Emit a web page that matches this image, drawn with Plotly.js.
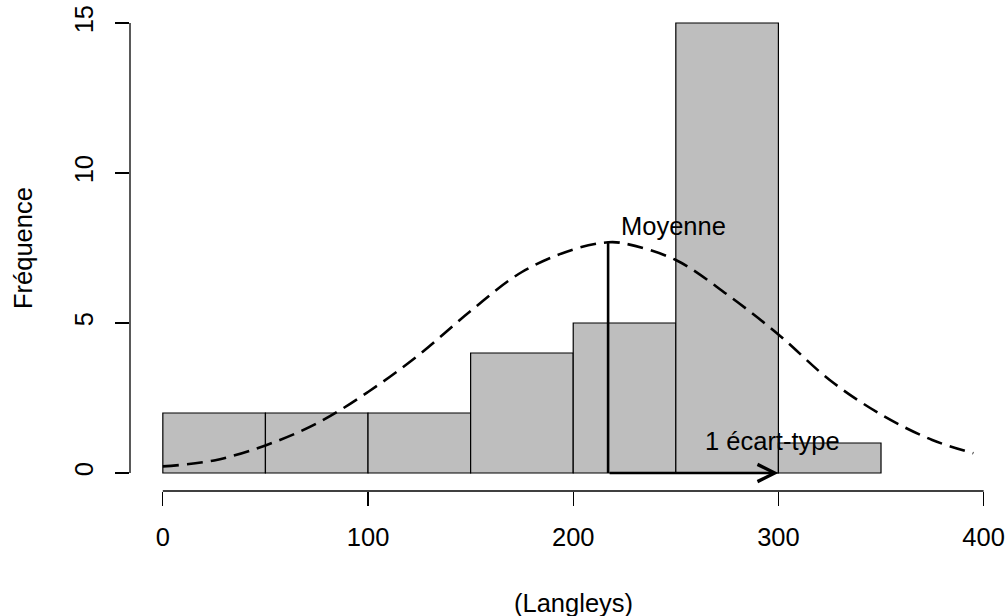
<!DOCTYPE html>
<html>
<head>
<meta charset="utf-8">
<script src="https://cdn.plot.ly/plotly-3.0.1.min.js"></script>
<style>html,body{margin:0;padding:0;background:#fff;}#chart{width:1007px;height:616px;}</style>
</head>
<body>
<div id="chart"></div>
<script>
// Histogram bins (Langleys) and frequencies
var binCenters = [25, 75, 125, 175, 225, 275, 325];
var binWidth = 50;
var counts = [2, 2, 2, 4, 5, 15, 1];

// Dashed normal curve
var curveX = [0, 25, 50, 75, 100, 125, 150, 175, 200, 217, 225, 250, 275, 300, 325, 350, 375, 395];
var curveY = [0.22, 0.42, 0.92, 1.65, 2.7, 3.95, 5.4, 6.7, 7.45, 7.69, 7.65, 7.1, 5.95, 4.62, 3.1, 1.95, 1.1, 0.66];

// Mean and one standard deviation
var meanValue = 217;
var meanHeight = 7.69;
var sdEnd = 300;

var xTicks = [0, 100, 200, 300, 400];
var yTicks = [0, 5, 10, 15];

var FONT = 'Liberation Sans, Arial, Helvetica, sans-serif';
var FS = 25.5;

var traces = [
  {
    type: 'bar',
    x: binCenters,
    y: counts,
    width: binCenters.map(function(){ return binWidth; }),
    marker: {color: '#BEBEBE', line: {color: '#000000', width: 1.2}},
    hoverinfo: 'x+y',
    showlegend: false
  },
  {
    type: 'scatter',
    mode: 'lines',
    x: curveX,
    y: curveY,
    line: {color: '#000000', width: 2.6, dash: '16px,8px', shape: 'spline', smoothing: 1},
    showlegend: false
  },
  {
    type: 'scatter',
    mode: 'lines',
    x: [meanValue, meanValue],
    y: [0, meanHeight],
    line: {color: '#000000', width: 2.6},
    showlegend: false
  }
];

var layout = {
  width: 1007,
  height: 616,
  margin: {l: 130, r: 0, t: 5, b: 125},
  paper_bgcolor: '#ffffff',
  plot_bgcolor: '#ffffff',
  font: {family: FONT, size: FS, color: '#000000'},
  bargap: 0,
  showlegend: false,
  xaxis: {
    range: [-16, 411.4],
    tickmode: 'array',
    tickvals: xTicks,
    ticktext: xTicks.map(String),
    ticks: 'outside',
    ticklen: 14,
    tickwidth: 1.3,
    tickcolor: '#000000',
    ticklabelstandoff: 9,
    showgrid: false,
    zeroline: false,
    showline: false,
    tickfont: {family: FONT, size: FS, color: '#000000'}
  },
  yaxis: {
    range: [-0.6, 15.6],
    tickmode: 'array',
    tickvals: yTicks,
    ticktext: yTicks.map(String),
    ticks: 'outside',
    ticklen: 14,
    tickwidth: 1.3,
    tickcolor: '#000000',
    tickangle: -90,
    ticklabelstandoff: 12,
    showgrid: false,
    zeroline: false,
    showline: false,
    tickfont: {family: FONT, size: FS, color: '#000000'}
  },
  shapes: [
    {type: 'line', xref: 'x', yref: 'paper', x0: xTicks[0], x1: xTicks[xTicks.length - 1], y0: 0, y1: 0,
     line: {color: '#000000', width: 1.3}},
    {type: 'line', xref: 'paper', yref: 'y', x0: 0, x1: 0, y0: yTicks[0], y1: yTicks[yTicks.length - 1],
     line: {color: '#000000', width: 1.3}}
  ],
  annotations: [
    {
      x: sdEnd, y: 0, xref: 'x', yref: 'y',
      ax: meanValue, ay: 0, axref: 'x', ayref: 'y',
      text: '', showarrow: true, arrowhead: 5, arrowsize: 1.3, arrowwidth: 2.6, arrowcolor: '#000000',
      standoff: 0, startstandoff: 0
    },
    {
      x: meanValue + 5.5, y: 8.23, xref: 'x', yref: 'y', xanchor: 'left', yanchor: 'middle',
      text: 'Moyenne', showarrow: false, font: {family: FONT, size: FS, color: '#000000'}
    },
    {
      x: 297, y: 1.07, xref: 'x', yref: 'y', xanchor: 'center', yanchor: 'middle',
      text: '1 écart-type', showarrow: false, font: {family: FONT, size: FS, color: '#000000'}
    },
    {
      x: 200, y: -0.23, xref: 'x', yref: 'paper', xanchor: 'center', yanchor: 'middle',
      text: '(Langleys)', showarrow: false, font: {family: FONT, size: FS, color: '#000000'}
    },
    {
      x: -0.122, y: 0.5, xref: 'paper', yref: 'paper', xanchor: 'center', yanchor: 'middle',
      text: 'Fréquence', textangle: -90, showarrow: false, font: {family: FONT, size: FS, color: '#000000'}
    }
  ]
};

Plotly.newPlot('chart', traces, layout, {displayModeBar: false, staticPlot: true});
</script>
</body>
</html>
